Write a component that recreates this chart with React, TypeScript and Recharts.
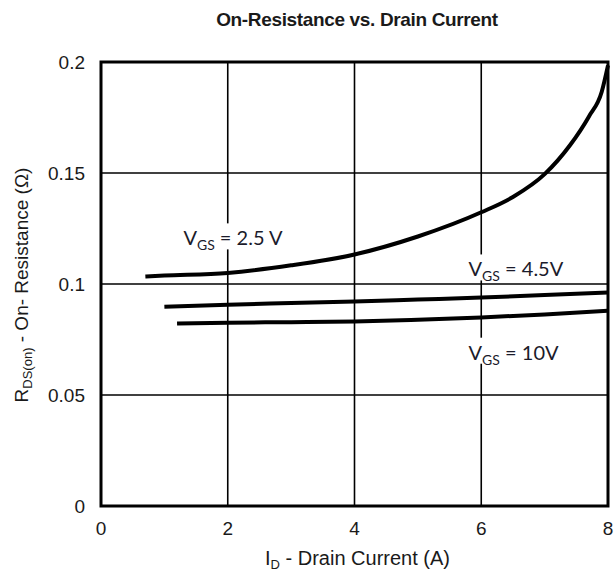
import React from 'react';
import {
  LineChart, Line, XAxis, YAxis, CartesianGrid, ReferenceArea, ReferenceDot,
} from 'recharts';

// Drain current (A) and on-resistance (Ohm) per gate voltage
const vgs25X = [0.7, 1, 2, 3, 4, 5, 6, 6.5, 7, 7.4, 7.7, 7.9, 8.0];
const vgs25Y = [0.1034, 0.1038, 0.105, 0.1084, 0.1133, 0.1214, 0.1323, 0.1392, 0.1495, 0.1625, 0.1755, 0.1865, 0.1985];

const vgs45X = [1.0, 2, 3, 4, 5, 6, 7, 8];
const vgs45Y = [0.0898, 0.0907, 0.0914, 0.0921, 0.093, 0.0939, 0.095, 0.0962];

const vgs10X = [1.2, 2, 3, 4, 5, 6, 7, 8];
const vgs10Y = [0.0822, 0.0826, 0.0828, 0.0831, 0.0839, 0.0849, 0.0863, 0.088];

const xTicks = [0, 2, 4, 6, 8];
const yTicks = [0, 0.05, 0.1, 0.15, 0.2];

const curveLabels = [
  { x: 1.3, y: 0.1174, main: 'V', sub: 'GS', rest: ' = 2.5 V', w: 104 },
  { x: 5.8, y: 0.1034, main: 'V', sub: 'GS', rest: ' = 4.5V', w: 100 },
  { x: 5.8, y: 0.0659, main: 'V', sub: 'GS', rest: ' = 10V', w: 97 },
];

const toPts = (xs: number[], ys: number[]) => xs.map((x, i) => ({ x, y: ys[i] }));
const d25 = toPts(vgs25X, vgs25Y);
const d45 = toPts(vgs45X, vgs45Y);
const d10 = toPts(vgs10X, vgs10Y);

const AXIS_FONT = '"Liberation Sans", Arial, sans-serif';
const LABEL_FONT = 'Lato, "Open Sans", sans-serif';

const XLabel = (props: any) => {
  const vb = props.viewBox;
  const cx = vb.x + vb.width / 2 + 3;
  return (
    <text x={cx} y={565} textAnchor="middle" fontFamily={AXIS_FONT} fontSize={20} fill="#1a1a1a">
      I<tspan dy={4} fontSize={13}>D</tspan><tspan dy={-4}> - Drain Current (A)</tspan>
    </text>
  );
};

const YLabel = (props: any) => {
  const vb = props.viewBox;
  const cx = 28;
  const cy = vb.y + vb.height / 2 + 1;
  return (
    <text transform={`rotate(-90, ${cx}, ${cy})`} x={cx} y={cy} textAnchor="middle" fontFamily={AXIS_FONT} fontSize={19} fill="#1a1a1a">
      R<tspan dy={4} fontSize={13}>DS(on)</tspan><tspan dy={-4}> - On- Resistance (Ω)</tspan>
    </text>
  );
};

const makeLabelShape = (l: typeof curveLabels[number]) => (p: any) => (
  <g>
    <rect x={p.cx - 3} y={p.cy - 22} width={l.w + 6} height={26} fill="#fff" />
    <text x={p.cx} y={p.cy} fontFamily={LABEL_FONT} fontSize={20} fill="#1b1b2b">
      {l.main}<tspan dy={5} fontSize={14}>{l.sub}</tspan><tspan dy={-5}>{l.rest}</tspan>
    </text>
  </g>
);

export default function App() {
  return (
    <div style={{ position: 'absolute', left: 0, top: 0, width: 614, height: 572, background: '#fff' }}>
      <div style={{
        position: 'absolute', left: 157, top: 10, width: 400, textAlign: 'center',
        fontFamily: AXIS_FONT, fontSize: 19, fontWeight: 'bold', letterSpacing: '-0.35px',
        lineHeight: '20px', color: '#1a1a1a', whiteSpace: 'nowrap',
      }}>
        On-Resistance vs. Drain Current
      </div>
      <LineChart width={614} height={572} margin={{ top: 62, right: 6, left: 0, bottom: 0 }}>
        <CartesianGrid stroke="#000" strokeWidth={1.6} />
        <XAxis
          type="number" dataKey="x" domain={[0, 8]} ticks={xTicks} interval={0}
          axisLine={false} tickLine={false} tickSize={0} tickMargin={16} height={66}
          tick={{ fontFamily: AXIS_FONT, fontSize: 19, fill: '#1a1a1a' }}
          label={XLabel}
        />
        <YAxis
          type="number" dataKey="y" domain={[0, 0.2]} ticks={yTicks} interval={0}
          axisLine={false} tickLine={false} tickSize={0} tickMargin={16} width={101}
          tick={{ fontFamily: AXIS_FONT, fontSize: 19, fill: '#1a1a1a' }}
          label={YLabel}
        />
        <ReferenceArea x1={0} x2={8} y1={0} y2={0.2} fill="none" stroke="#000" strokeWidth={3} fillOpacity={0} />
        {curveLabels.map((l, i) => (
          <ReferenceDot key={i} x={l.x} y={l.y} r={1} shape={makeLabelShape(l)} />
        ))}
        <Line data={d25} dataKey="y" type="monotone" stroke="#000" strokeWidth={4} dot={false} isAnimationActive={false} />
        <Line data={d45} dataKey="y" type="monotone" stroke="#000" strokeWidth={4} dot={false} isAnimationActive={false} />
        <Line data={d10} dataKey="y" type="monotone" stroke="#000" strokeWidth={4} dot={false} isAnimationActive={false} />
      </LineChart>
    </div>
  );
}
